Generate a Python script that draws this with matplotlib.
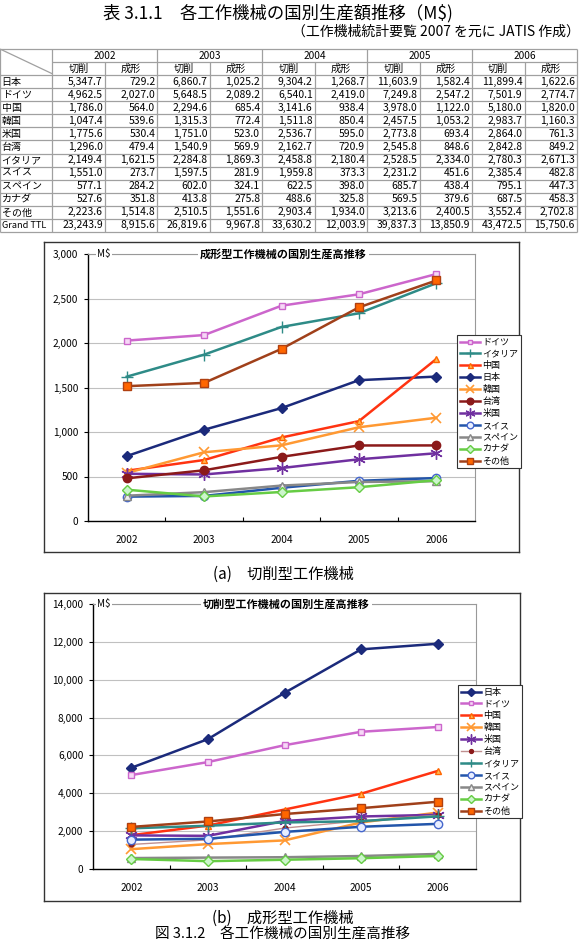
import matplotlib
matplotlib.use("Agg")
import matplotlib.pyplot as plt

plt.rcParams["font.family"] = ["Noto Sans CJK JP", "DejaVu Sans"]

W, H = 584, 942

years = [2002, 2003, 2004, 2005, 2006]
countries = ["日本", "ドイツ", "中国", "韓国", "米国", "台湾",
             "イタリア", "スイス", "スペイン", "カナダ", "その他"]

# 切削 production (M$), one row per country
cutting = [
    [5347.7, 6860.7, 9304.2, 11603.9, 11899.4],
    [4962.5, 5648.5, 6540.1, 7249.8, 7501.9],
    [1786.0, 2294.6, 3141.6, 3978.0, 5180.0],
    [1047.4, 1315.3, 1511.8, 2457.5, 2983.7],
    [1775.6, 1751.0, 2536.7, 2773.8, 2864.0],
    [1296.0, 1540.9, 2162.7, 2545.8, 2842.8],
    [2149.4, 2284.8, 2458.8, 2528.5, 2780.3],
    [1551.0, 1597.5, 1959.8, 2231.2, 2385.4],
    [577.1, 602.0, 622.5, 685.7, 795.1],
    [527.6, 413.8, 488.6, 569.5, 687.5],
    [2223.6, 2510.5, 2903.4, 3213.6, 3552.4],
]
# 成形 production (M$)
forming = [
    [729.2, 1025.2, 1268.7, 1582.4, 1622.6],
    [2027.0, 2089.2, 2419.0, 2547.2, 2774.7],
    [564.0, 685.4, 938.4, 1122.0, 1820.0],
    [539.6, 772.4, 850.4, 1053.2, 1160.3],
    [530.4, 523.0, 595.0, 693.4, 761.3],
    [479.4, 569.9, 720.9, 848.6, 849.2],
    [1621.5, 1869.3, 2180.4, 2334.0, 2671.3],
    [273.7, 281.9, 373.3, 451.6, 482.8],
    [284.2, 324.1, 398.0, 438.4, 447.3],
    [351.8, 275.8, 325.8, 379.6, 458.3],
    [1514.8, 1551.6, 1934.0, 2400.5, 2702.8],
]
grand_cutting = [23243.9, 26819.6, 33630.2, 39837.3, 43472.5]
grand_forming = [8915.6, 9967.8, 12003.9, 13850.9, 15750.6]

legend_order_a = ["ドイツ", "イタリア", "中国", "日本", "韓国", "台湾",
                  "米国", "スイス", "スペイン", "カナダ", "その他"]
legend_order_b = ["日本", "ドイツ", "中国", "韓国", "米国", "台湾",
                  "イタリア", "スイス", "スペイン", "カナダ", "その他"]

styles = {
    "日本": dict(color="#1B2A7B", marker="D", ms=5, mfc="#1B2A7B", mec="#1B2A7B"),
    "ドイツ": dict(color="#CC66CC", marker="s", ms=4, mfc="#F6D8F6", mec="#CC66CC"),
    "中国": dict(color="#FF3311", marker="^", ms=4.5, mfc="#FFBB55", mec="#FF6600"),
    "韓国": dict(color="#FF9933", marker="x", ms=7.5, mew=1.2),
    "米国": dict(color="#7030A0", marker=(6, 2, 0), ms=9, mew=1),
    "台湾": dict(color="#8B1A1A", marker="o", ms=6, mfc="#8B1A1A", mec="#8B1A1A"),
    "イタリア": dict(color="#2E8B87", marker="+", ms=8, mew=1),
    "スイス": dict(color="#2255AA", marker="o", ms=6, mfc="#E8EEFF", mec="#4466CC"),
    "スペイン": dict(color="#888888", marker="^", ms=6, mfc="#EEEEEE", mec="#888888"),
    "カナダ": dict(color="#66CC44", marker="D", ms=5.5, mfc="#CCF5CC", mec="#66CC44"),
    "その他": dict(color="#A0401A", marker="s", ms=5.5, mfc="#FF6600", mec="#B04010"),
}
taiwan_b = dict(color="#C09090", lw=1.0, marker="o", ms=3.5, mfc="#8B1A1A", mec="#8B1A1A")


def px_rect(x0, y0, x1, y1):
    return [x0 / W, 1 - y1 / H, (x1 - x0) / W, (y1 - y0) / H]


fig = plt.figure(figsize=(W / 100, H / 100), dpi=100)
fig.patch.set_facecolor("white")

fig.text(278 / W, 1 - 13 / H, "表 3.1.1　各工作機械の国別生産額推移（M$)",
         ha="center", va="center", fontsize=12.5)
fig.text(292 / W, 1 - 32 / H, "（工作機械統計要覧 2007 を元に JATIS 作成）",
         ha="left", va="center", fontsize=10)

# ---- table ----
ax_t = fig.add_axes(px_rect(0, 49, 577, 232))
ax_t.set_xlim(0, 11)
ax_t.set_ylim(14, 0)
ax_t.axis("off")
lc = "#A0A0A0"


def tline(xs, ys):
    ax_t.plot(xs, ys, color=lc, lw=0.9, clip_on=False, solid_capstyle="butt")


tline([0, 11], [0, 0])
tline([1, 11], [1, 1])
for r in range(2, 15):
    tline([0, 11], [r, r])
for c in [0, 1, 3, 5, 7, 9, 11]:
    tline([c, c], [0, 14])
for c in [2, 4, 6, 8, 10]:
    tline([c, c], [1, 14])
tline([0, 1], [0, 1.9])

for j, yr in enumerate(years):
    ax_t.text(2 + 2 * j, 0.5, str(yr), ha="center", va="center", fontsize=7.3)
    ax_t.text(1.5 + 2 * j, 1.5, "切削", ha="center", va="center", fontsize=7.3)
    ax_t.text(2.5 + 2 * j, 1.5, "成形", ha="center", va="center", fontsize=7.3)

rows = [(n, cutting[i], forming[i]) for i, n in enumerate(countries)]
rows.append(("Grand TTL", grand_cutting, grand_forming))
for r, (name, cv, fv) in enumerate(rows):
    y = r + 2.5
    ax_t.text(0.03, y, name, ha="left", va="center", fontsize=7.2 if r < 11 else 6.6)
    for j in range(5):
        ax_t.text(1.96 + 2 * j, y, f"{cv[j]:,.1f}", ha="right", va="center", fontsize=7.5)
        ax_t.text(2.96 + 2 * j, y, f"{fv[j]:,.1f}", ha="right", va="center", fontsize=7.5)


# ---- charts ----
def draw_chart(box, plot, data, order, title, ymax, ystep, legend_xy, tw_style):
    bg = fig.add_axes(px_rect(*box))
    bg.set_xticks([])
    bg.set_yticks([])
    for s in bg.spines.values():
        s.set_color("#333333")
        s.set_linewidth(1.0)

    ax = fig.add_axes(px_rect(*plot))
    handles = {}
    for i, name in enumerate(countries):
        st = dict(lw=1.8, color="k")
        st.update(styles[name])
        if name == "台湾" and tw_style is not None:
            st = dict(tw_style)
        (ln,) = ax.plot(range(len(years)), data[i], label=name, **st)
        handles[name] = ln

    ax.set_xlim(-0.5, 4.5)
    ax.set_ylim(0, ymax)
    ax.set_yticks(range(0, ymax + 1, ystep))
    ax.set_yticklabels([f"{v:,}" for v in range(0, ymax + 1, ystep)], fontsize=7.3)
    ax.set_xticks(range(len(years)))
    ax.set_xticklabels([str(y) for y in years], fontsize=7.3)
    ax.set_xticks([0.5, 1.5, 2.5, 3.5], minor=True)
    ax.tick_params(axis="x", which="major", length=0, pad=10)
    ax.tick_params(axis="x", which="minor", direction="in", length=3, width=0.8)
    ax.tick_params(axis="y", length=3, width=0.8, pad=4)
    ax.yaxis.grid(True, color="#C0C0C0", lw=0.8)
    ax.set_axisbelow(True)
    for side in ["top", "right"]:
        ax.spines[side].set_color("#999999")
        ax.spines[side].set_linewidth(0.8)
    for side in ["left", "bottom"]:
        ax.spines[side].set_color("black")
        ax.spines[side].set_linewidth(1.0)

    ax.text(0.505, 1.0, title, transform=ax.transAxes, ha="center", va="center",
            fontsize=8, fontweight="bold", zorder=10, clip_on=False,
            bbox=dict(fc="white", ec="none", pad=1.5))
    ax.text((97 - plot[0]) / (plot[2] - plot[0]), 1.0, "M$", transform=ax.transAxes,
            ha="left", va="center", fontsize=7, zorder=10, clip_on=False,
            bbox=dict(fc="white", ec="none", pad=1))

    leg = ax.legend([handles[n] for n in order], order, loc="upper left",
                    bbox_to_anchor=(legend_xy[0] / W, 1 - legend_xy[1] / H),
                    bbox_transform=fig.transFigure, fontsize=6.5, frameon=True,
                    fancybox=False, edgecolor="#333333", framealpha=1,
                    handlelength=2.3, handletextpad=0.2, labelspacing=0.32,
                    borderpad=0.3, borderaxespad=0, markerscale=0.8)
    leg.get_frame().set_linewidth(0.8)
    return ax


draw_chart((44, 242, 519, 552), (88, 254, 475, 521), forming, legend_order_a,
           "成形型工作機械の国別生産高推移", 3000, 500, (457, 335), None)
fig.text(283 / W, 1 - 574 / H, "(a)　切削型工作機械", ha="center", va="center", fontsize=11)

draw_chart((44, 593, 520, 901), (93, 604, 476, 869), cutting, legend_order_b,
           "切削型工作機械の国別生産高推移", 14000, 2000, (458, 685), taiwan_b)
fig.text(283 / W, 1 - 918 / H, "(b)　成形型工作機械", ha="center", va="center", fontsize=11)
fig.text(283 / W, 1 - 934 / H, "図 3.1.2　各工作機械の国別生産高推移",
         ha="center", va="center", fontsize=10.5)

fig.savefig("out.png", dpi=100)
